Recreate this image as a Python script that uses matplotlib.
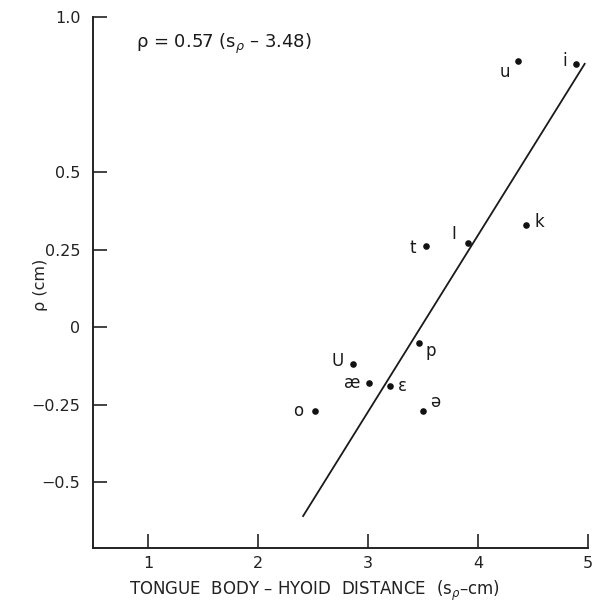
import matplotlib.pyplot as plt
import numpy as np

# speech sounds: tongue body - hyoid distance (s_p, cm) vs rho (cm)
sounds = ['u', 'i', 'k', 'I', 't', 'p', 'U', 'æ', 'ɛ', 'ə', 'o']
s_p = [4.36, 4.89, 4.44, 3.91, 3.53, 3.46, 2.86, 3.01, 3.20, 3.50, 2.52]
rho = [0.86, 0.85, 0.33, 0.27, 0.26, -0.05, -0.12, -0.18, -0.19, -0.27, -0.27]

# fitted line  rho = 0.57 (s_p - 3.48)
fit_slope = 0.57
fit_x0 = 3.48
fit_range = [2.41, 4.97]

# where each letter sits relative to its dot (points)
offsets = {
    'u': (-9, -8), 'i': (-8, 2), 'k': (9, 2), 'I': (-10, 7),
    't': (-10, -1), 'p': (9, -6), 'U': (-11, 2), 'æ': (-12, 0),
    'ɛ': (9, 0), 'ə': (9, 6), 'o': (-12, 0),
}

fig = plt.figure(figsize=(6, 6.06), dpi=100)
ax = fig.add_axes([0.155, 0.0957, 0.825, 0.876])

fx = np.array(fit_range)
ax.plot(fx, fit_slope * (fx - fit_x0), color='#1a1a1a', lw=1.3)
ax.scatter(s_p, rho, s=14, color='#111111', zorder=3)

for name, x, y in zip(sounds, s_p, rho):
    dx, dy = offsets[name]
    ax.annotate(name, (x, y), xytext=(dx, dy), textcoords='offset points',
                ha='center', va='center', fontsize=12, color='#1a1a1a')

ax.text(0.89, 0.915, 'ρ = 0.57 (s$_ρ$ – 3.48)', fontsize=13, color='#1a1a1a',
        va='center')

ax.set_xlim(0.5, 5.0)
ax.set_ylim(-0.713, 1.0)
ax.set_xticks([1, 2, 3, 4, 5])
ax.set_yticks([1.0, 0.5, 0.25, 0, -0.25, -0.5])
ax.set_yticklabels(['1.0', '0.5', '0.25', '0', '−0.25', '−0.5'])

for side in ['top', 'right']:
    ax.spines[side].set_visible(False)
for side in ['left', 'bottom']:
    ax.spines[side].set_linewidth(1.4)
    ax.spines[side].set_color('#222222')

ax.tick_params(direction='in', length=10, width=1.2, labelsize=11.5,
               colors='#222222', pad=9)
ax.tick_params(axis='x', pad=6)

ax.set_xlabel('TONGUE  BODY – HYOID  DISTANCE  (s$_ρ$–cm)', fontsize=12,
              color='#222222')
ax.xaxis.set_label_coords(0.447, -0.058)
fig.text(0.068, 0.53, 'ρ (cm)', rotation=90, fontsize=11.5, color='#222222',
         ha='center', va='center')

fig.savefig('out.png', dpi=100, facecolor='white')
